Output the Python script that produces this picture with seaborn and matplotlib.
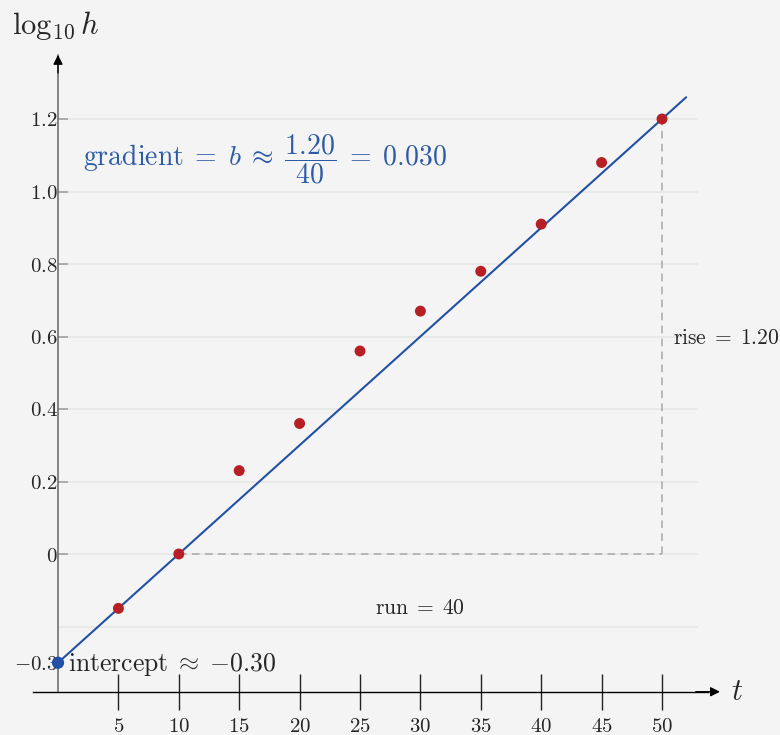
import numpy as np
import pandas as pd
import matplotlib
matplotlib.use("Agg")
import matplotlib.pyplot as plt
import seaborn as sns

# ---------------- data ----------------
t_values = [5, 10, 15, 20, 25, 30, 35, 40, 45, 50]
log_h = [-0.15, 0.00, 0.23, 0.36, 0.56, 0.67, 0.78, 0.91, 1.08, 1.20]
intercept = -0.30
gradient = 0.030
fit_t = [0, 52]
run_start, run_end = 10, 50
rise_top = 1.20
xtick_values = [5, 10, 15, 20, 25, 30, 35, 40, 45, 50]
xtick_labels = ["$5$", "$10$", "$15$", "$20$", "$25$", "$30$", "$35$", "$40$", "$45$", "$50$"]
ytick_values = [-0.3, 0, 0.2, 0.4, 0.6, 0.8, 1.0, 1.2]
ytick_labels = ["$-0.3$", "$0$", "$0.2$", "$0.4$", "$0.6$", "$0.8$", "$1.0$", "$1.2$"]
grid_values = [-0.2, 0, 0.2, 0.4, 0.6, 0.8, 1.0, 1.2]

BG = "#f4f4f4"
RED = "#b61f24"
BLUE = "#2250a5"
TXTBLUE = "#2d5aa6"
GRID = "#e6e6e6"
DASH = "#a8a8a8"

sns.set_theme(style="white", rc={"axes.facecolor": BG, "figure.facecolor": BG})
plt.rcParams["mathtext.fontset"] = "cm"
plt.rcParams["font.family"] = ["DejaVu Serif"]

fig = plt.figure(figsize=(7.8, 7.35), dpi=100)
ax = fig.add_axes([0, 0, 1, 1])
ax.set_facecolor(BG)

px_x = 12.08   # px per t unit
px_y = 362.5   # px per log unit
x0, y0 = 58, 554
ax.set_xlim(-x0 / px_x, (780 - x0) / px_x)
ax.set_ylim(-(735 - y0) / px_y, y0 / px_y)

x_axis_y = -0.38
x_axis_left = -2.07
x_axis_right = 54.8
y_axis_top = 1.377

# grid lines
ax.hlines(grid_values, 0, 53, colors=GRID, lw=1.1, zorder=0)

# dashed run/rise
ax.plot([run_start, run_end], [0, 0], color=DASH, lw=1.1, dashes=(5, 3.5), zorder=1)
ax.plot([run_end, run_end], [0, rise_top], color=DASH, lw=1.1, dashes=(5, 3.5), zorder=1)

# fitted line
fit_df = pd.DataFrame({"t": fit_t, "y": [intercept + gradient * v for v in fit_t]})
sns.lineplot(data=fit_df, x="t", y="y", color=BLUE, lw=1.5, ax=ax, zorder=3)

# data points
pts = pd.DataFrame({"t": t_values, "log_h": log_h})
sns.scatterplot(data=pts, x="t", y="log_h", color=RED, s=62, edgecolor="none",
                ax=ax, zorder=4)
sns.scatterplot(x=[0], y=[intercept], color=BLUE, s=78, edgecolor="none",
                ax=ax, zorder=5)

# axes / spines
for s in ["top", "right"]:
    ax.spines[s].set_visible(False)
ax.spines["left"].set_position(("data", 0))
ax.spines["bottom"].set_position(("data", x_axis_y))
ax.spines["left"].set_bounds(x_axis_y, y_axis_top)
ax.spines["bottom"].set_bounds(x_axis_left, x_axis_right - 1)
ax.spines["left"].set_color("#666666")
ax.spines["left"].set_linewidth(1.1)
ax.spines["bottom"].set_color("black")
ax.spines["bottom"].set_linewidth(1.0)
ax.spines["left"].set_zorder(2)

ax.annotate("", xy=(x_axis_right, x_axis_y), xytext=(x_axis_right - 2, x_axis_y),
            arrowprops=dict(arrowstyle="-|>", color="black", lw=1.0,
                            mutation_scale=14, shrinkA=0, shrinkB=0))
ax.annotate("", xy=(0, y_axis_top), xytext=(0, y_axis_top - 0.05),
            arrowprops=dict(arrowstyle="-|>", color="black", lw=1.0,
                            mutation_scale=14, shrinkA=0, shrinkB=0))

ax.set_xticks(xtick_values)
ax.set_xticklabels(xtick_labels, fontsize=15)
ax.set_yticks(ytick_values)
ax.set_yticklabels(ytick_labels, fontsize=15)
ax.tick_params(axis="x", direction="inout", length=26, width=1.0, color="#222222",
               pad=5.5, bottom=True)
ax.tick_params(axis="y", direction="in", length=7, width=1.2, color="#a0a0a0",
               pad=0.0, left=True)
ax.yaxis.get_major_ticks()[0].tick1line.set_visible(False)
ax.set_xlabel("")
ax.set_ylabel("")
ax.grid(False)

# texts
ax.text(-0.17, 1.459, r"$\log_{10} h$", fontsize=22, ha="center", va="center")
ax.text(56.2, x_axis_y, r"$t$", fontsize=22, ha="center", va="center")
ax.text(2.07, 1.09,
        r"$\mathrm{gradient}\;=\;b\;\approx\;\dfrac{1.20}{40}\;=\;0.030$",
        fontsize=20, color=TXTBLUE, ha="left", va="center")
ax.text(0.83, -0.304, r"$\mathrm{intercept}\;\approx\;{-}0.30$", fontsize=18.5,
        ha="left", va="center")
ax.text(29.97, -0.149, r"$\mathrm{run}\;=\;40$", fontsize=15.5, ha="center", va="center")
ax.text(50.9, 0.596, r"$\mathrm{rise}\;=\;1.20$", fontsize=15.5, ha="left", va="center")

fig.savefig("out.png", dpi=100, facecolor=BG)
